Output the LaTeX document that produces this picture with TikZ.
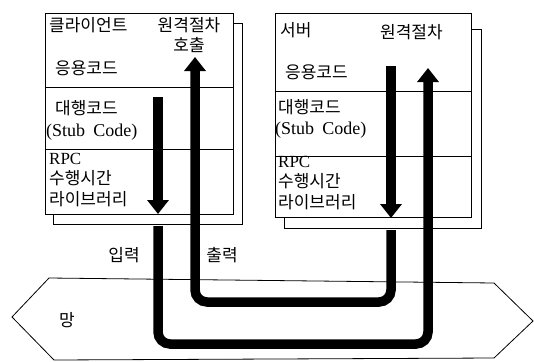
\documentclass[tikz,border=0pt]{standalone}
\usepackage{fontspec}
\newfontfamily\kr{Noto Sans CJK KR}
\newfontfamily\lat{Liberation Serif}
\usetikzlibrary{arrows.meta,positioning}

\begin{document}
\begin{tikzpicture}[x=1pt, y=-1pt,
                font=\kr\fontsize{17}{20.5}\selectfont,
                unitbox/.style={draw, fill=white, line width=0.8pt},
                txt/.style={inner sep=0pt, anchor=west},
                engtxt/.style={inner sep=0pt, anchor=west, font=\lat\fontsize{18}{20}\selectfont},
                divider/.style={line width=0.8pt},
                flow/.style={line width=9.5pt, rounded corners=12pt, -{Triangle[length=14pt,width=21pt]}}
            ]
            \useasboundingbox (0,0) rectangle (534,361);
            % client side
            \node[unitbox, minimum width=189pt, minimum height=201pt] (clientback) at (147.5,123.5) {};
            \node[unitbox, minimum width=188pt, minimum height=201pt] (client) at (139,113.5) {};
            \draw[divider] (client.west |- 0,87) -- (client.east |- 0,87);
            \draw[divider] (client.west |- 0,149) -- (client.east |- 0,149);
            \node[txt] (cname) at (49,25) {클라이언트};
            \node[align=center, inner sep=0pt] (ccall) at (189,35) {원격절차\\호출};
            \node[txt] (capp) at (55,68) {응용코드};
            \node[txt] (cstub) at (55,108) {대행코드};
            \node[engtxt] (cstubeng) at (46,132) {(Stub\hspace{0.45em}Code)};
            \node[txt, align=left] (crt) at (49,180) {{\lat RPC}\\수행시간\\라이브러리};
            % server side
            \node[unitbox, minimum width=197pt, minimum height=199pt] (serverback) at (382.5,128.5) {};
            \node[unitbox, minimum width=196pt, minimum height=204pt] (server) at (373,115) {};
            \draw[divider] (server.west |- 0,91) -- (server.east |- 0,91);
            \draw[divider] (server.west |- 0,156) -- (server.east |- 0,156);
            \node[txt] (sname) at (280,30) {서버};
            \node[txt] (sproc) at (380,32) {원격절차};
            \node[txt] (sapp) at (285,72) {응용코드};
            \node[txt] (sstub) at (278,107) {대행코드};
            \node[engtxt] (sstubeng) at (275,130) {(Stub\hspace{0.45em}Code)};
            \node[txt, align=left] (srt) at (278,183) {{\lat RPC}\\수행시간\\라이브러리};
            % network
            \draw[divider, fill=white] (12,317) -- (49,278) -- (494,283) -- (533,321) -- (494,358) -- (54,360) -- cycle;
            \node (net) at (67,320) {망};
            \node (inlbl) at (124,255) {입력};
            \node (outlbl) at (222,255) {출력};
            % flows
            \coordinate (cdtop) at (158,97);
            \coordinate (cdend) at (158,214);
            \coordinate (cexit) at (158,226);
            \coordinate (outbot) at (290,344);
            \coordinate (suptip) at (428,68);
            \coordinate (sdtop) at (391,66);
            \coordinate (sdend) at (391,218);
            \coordinate (sexit) at (391,230);
            \coordinate (inbot) at (290,302);
            \coordinate (cuptip) at (195,57);
            \draw[flow] (cdtop) -- (cdend);
            \draw[flow] (cexit) |- (outbot) -| (suptip);
            \draw[flow] (sdtop) -- (sdend);
            \draw[flow] (sexit) |- (inbot) -| (cuptip);
        \end{tikzpicture}
\end{document}
